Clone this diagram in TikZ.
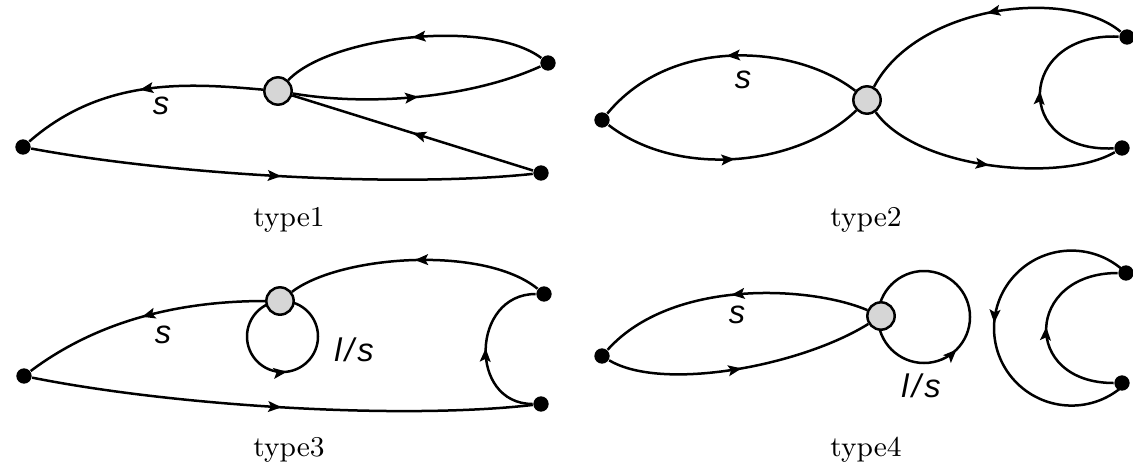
\documentclass[tikz,border=0pt]{standalone}
\usepackage{fontspec}
\setsansfont{Liberation Sans}
\usetikzlibrary{arrows.meta,decorations.markings}
\pgfdeclarelayer{bg}
\pgfsetlayers{bg,main}
\tikzset{
 blackdot/.style={circle,fill=black,inner sep=0pt,minimum size=4.6pt},
 hubnode/.style={circle,draw=black,fill=black!16,line width=0.75pt,inner sep=0pt,minimum size=8.2pt},
 conn/.style={line width=0.75pt},
 midarrow/.style={postaction={decorate},decoration={markings,mark=at position #1 with {\arrow{Stealth[length=4pt,width=3.2pt,inset=0.8pt]}}}},
 midarrow/.default=0.5,
 lab/.style={font=\fontsize{9.8}{12}\sffamily\itshape,inner sep=0pt},
 typelabel/.style={font=\fontsize{8.6}{10}\selectfont,inner sep=0pt}
}
\begin{document}
\begin{tikzpicture}[x=0.3pt,y=0.3pt]
\useasboundingbox (0,0) rectangle (1133,-465);
% ---------- type1
\node[hubnode] (h1) at (278,-91) {};
\node[blackdot] (a1) at (23,-147) {};
\node[blackdot] (b1) at (548,-63) {};
\node[blackdot] (c1) at (541,-173) {};
\node[lab] (s1) at (161,-106) {s};
\node[typelabel] (t1) at (289,-220) {type1};
% ---------- type2
\node[hubnode] (h2) at (867,-100) {};
\node[blackdot] (a2) at (602,-120) {};
\node[blackdot] (b2) at (1127,-37) {};
\node[blackdot] (c2) at (1122,-148) {};
\node[lab] (s2) at (743,-80) {s};
\node[typelabel] (t2) at (866,-220) {type2};
% ---------- type3
\node[hubnode] (h3) at (280,-301) {};
\node[blackdot] (a3) at (24,-376) {};
\node[blackdot] (b3) at (544,-294) {};
\node[blackdot] (c3) at (541,-404) {};
\node[lab] (s3) at (163,-335) {s};
\node[lab] (ls3) at (354,-350) {l\kern1pt/\kern1pt s};
\node[typelabel] (t3) at (289,-450) {type3};
% ---------- type4
\node[hubnode] (h4) at (881,-316) {};
\node[blackdot] (a4) at (602,-356) {};
\node[blackdot] (b4) at (1126,-273) {};
\node[blackdot] (c4) at (1122,-383) {};
\node[lab] (s4) at (737,-315) {s};
\node[lab] (ls4) at (921,-386) {l\kern1pt/\kern1pt s};
\node[typelabel] (t4) at (866,-450) {type4};
\begin{pgfonlayer}{bg}
% type1
\draw[conn,midarrow] (h1) .. controls +(-90,8) and +(80,70) .. (a1);
\draw[conn,midarrow] (b1) .. controls +(-60,45) and +(52,55) .. (h1);
\draw[conn,midarrow] (h1) .. controls +(95,-16) and +(-75,-34) .. (b1);
\draw[conn,midarrow] (c1) -- (h1);
\draw[conn,midarrow] (a1) .. controls +(150,-28) and +(-141,-15) .. (c1);
% type2
\draw[conn,midarrow] (h2) .. controls +(-70,55) and +(70,85) .. (a2);
\draw[conn,midarrow] (a2) .. controls +(78,-60) and +(-67,-65) .. (h2);
\draw[conn,midarrow] (b2) .. controls +(-60,50) and +(50,95) .. (h2);
\draw[conn,midarrow] (h2) .. controls +(50,-70) and +(-60,-35) .. (c2);
\draw[conn,midarrow] (c2) .. controls +(-110,-5) and +(-110,5) .. (b2);
% type3
\draw[conn,midarrow] (h3) .. controls +(-90,0) and +(80,60) .. (a3);
\draw[conn,midarrow] (b3) .. controls +(-60,49) and +(60,46) .. (h3);
\draw[conn,midarrow=0.77] (h3) ++(2.5,-35.5) circle[radius=35.5];
\draw[conn,midarrow] (a3) .. controls +(150,-30) and +(-140,-16) .. (c3);
\draw[conn,midarrow] (c3) .. controls +(-73,0) and +(-73,0) .. (b3);
% type4
\draw[conn,midarrow] (h4) .. controls +(-70,30) and +(70,78) .. (a4);
\draw[conn,midarrow] (a4) .. controls +(60,-36) and +(-80,-50) .. (h4);
\draw[conn,midarrow=0.875] (h4) ++(43,-1) circle[radius=46];
\draw[conn,midarrow=0.49] (b4) arc[start angle=45.3,end angle=312.6,radius=77.5];
\draw[conn,midarrow] (c4) .. controls +(-101,0) and +(-101,0) .. (b4);
\end{pgfonlayer}
\end{tikzpicture}
\end{document}
